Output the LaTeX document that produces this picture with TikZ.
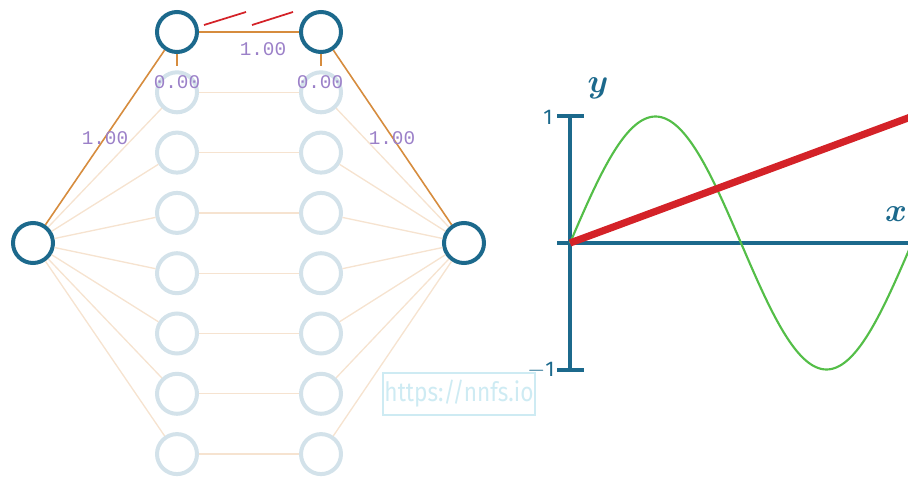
\documentclass[tikz,border=0pt]{standalone}
\usepackage{fontspec}
\usepackage{amsmath,bm}
\newfontfamily\weightfont{Liberation Mono}
\newfontfamily\tickfont{Fira Sans}
\newfontfamily\sitefont[FakeStretch=0.85]{Fira Sans}
\definecolor{netblue}{RGB}{28,105,140}
\definecolor{paleblue}{RGB}{211,226,234}
\definecolor{linkorange}{RGB}{214,140,62}
\definecolor{paleorange}{RGB}{246,227,208}
\definecolor{weightpurple}{RGB}{155,128,200}
\definecolor{fitred}{RGB}{212,34,40}
\definecolor{sinegreen}{RGB}{84,190,72}
\definecolor{sitecyan}{RGB}{206,235,243}
\tikzset{
    neuron/.style={circle, draw=netblue, line width=3pt, minimum size=30pt, inner sep=0pt},
    idle/.style={neuron, draw=paleblue},
    link/.style={draw=linkorange, line width=1.2pt},
    faint/.style={draw=paleorange, line width=1pt},
    weight/.style={text=weightpurple, font=\weightfont\fontsize{14.5}{16}\selectfont, inner sep=0pt},
    axis/.style={draw=netblue, line width=2.4pt},
    ticklabel/.style={text=netblue, font=\tickfont\fontsize{16}{18}\selectfont, inner sep=0pt}
}
\begin{document}
\begin{tikzpicture}[x=0.75pt, y=-0.75pt]
    \useasboundingbox (0,0) rectangle (908,478);
    % network
    \node[neuron] (in) at (33,243) {};
    \node[neuron] (out) at (464,243) {};
    \node[neuron] (a1) at (177,32) {};
    \node[neuron] (b1) at (321,32) {};
    \foreach \i in {2,...,8} {
        \node[idle] (a\i) at (177,{32+(\i-1)*60.3}) {};
        \node[idle] (b\i) at (321,{32+(\i-1)*60.3}) {};
    }
    \foreach \i in {2,...,8} {
        \draw[faint] (in) -- (a\i);
        \draw[faint] (a\i) -- (b\i);
        \draw[faint] (b\i) -- (out);
    }
    \draw[link] (in) -- (a1);
    \draw[link] (a1) -- (b1);
    \draw[link] (b1) -- (out);
    \coordinate (a1bias) at (177,66);
    \coordinate (b1bias) at (321,66);
    \draw[link] (a1) -- (a1bias);
    \draw[link] (b1) -- (b1bias);
    % weights and biases
    \node[weight] (w-top) at (263,49) {1.00};
    \node[weight] (w-in) at (105,138) {1.00};
    \node[weight] (w-out) at (392,138) {1.00};
    \node[weight] (bias-a) at (177,82) {0.00};
    \node[weight] (bias-b) at (320,82) {0.00};
    \draw[fitred, line width=1.3pt] (204,25) -- (246,12);
    \draw[fitred, line width=1.3pt] (252,25) -- (293,12);
    % watermark
    \node[draw=sitecyan, line width=1.4pt, text=sitecyan, minimum width=114pt, minimum height=31.5pt,
        inner sep=0pt, font=\sitefont\fontsize{20}{22}\selectfont] (site) at (459,394) {https://nnfs.io};
    % plot
    \coordinate (origin) at (570,243);
    \coordinate (ytop) at (570,116);
    \coordinate (ybot) at (570,370);
    \draw[axis] (557,243) -- (912,243);
    \draw[axis] (ytop) -- (ybot);
    \draw[axis] (557,116) -- (584,116);
    \draw[axis] (557,370) -- (584,370);
    \node[ticklabel] (one) at (548,117) {1};
    \node[ticklabel] (minusone) at (541,370) {$-$1};
    \node[text=netblue, font=\fontsize{24}{26}\selectfont, inner sep=0pt] (ylabel) at (598,88) {$\bm{y}$};
    \node[text=netblue, font=\fontsize{24}{26}\selectfont, inner sep=0pt] (xlabel) at (896,214) {$\bm{x}$};
    \draw[sinegreen, line width=1.6pt] plot[domain=0:340, samples=160, smooth] ({570+\x}, {243-126.5*sin(\x/342*360)});
    \draw[fitred, line width=5.4pt] (origin) -- (912,116.5);
\end{tikzpicture}
\end{document}
